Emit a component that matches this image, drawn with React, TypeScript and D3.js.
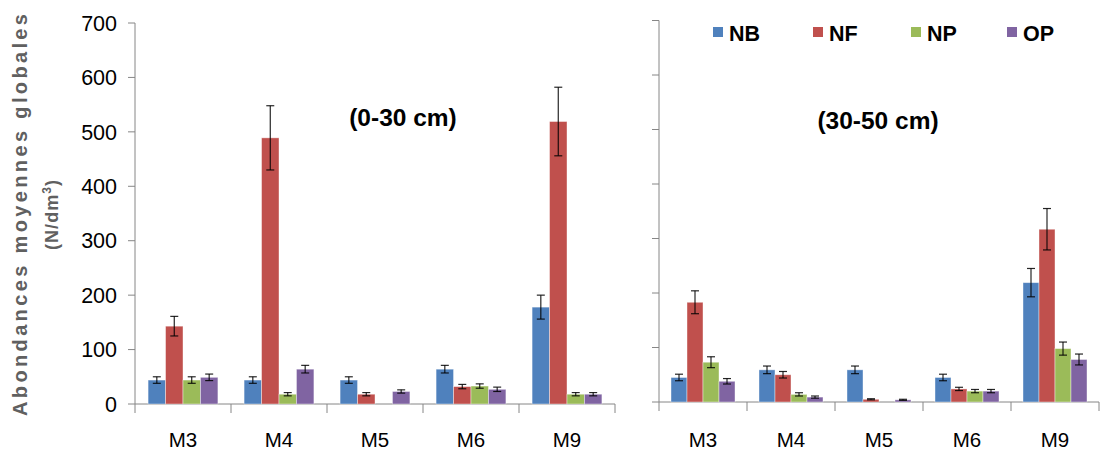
import * as d3 from "d3";

const CATEGORIES = ["M3", "M4", "M5", "M6", "M9"];
const SERIES = ["NB", "NF", "NP", "OP"];
const COLORS = ["#4F81BD", "#C0504D", "#9BBB59", "#8064A2"];
const Y_TICKS = [0, 100, 200, 300, 400, 500, 600, 700];

// 0-30 cm, one array per series (M3, M4, M5, M6, M9)
const TOP_NB = [44, 44, 44, 64, 178];
const TOP_NF = [143, 489, 18, 32, 519];
const TOP_NP = [44, 18, 0, 33, 18];
const TOP_OP = [49, 64, 23, 27, 18];
const TOP_NB_ERR = [6, 6, 6, 7, 22];
const TOP_NF_ERR = [18, 59, 3, 4, 63];
const TOP_NP_ERR = [6, 3, 0, 4, 3];
const TOP_OP_ERR = [6, 7, 3, 4, 3];

// 30-50 cm
const SUB_NB = [45, 59, 59, 45, 219];
const SUB_NF = [183, 50, 5, 24, 317];
const SUB_NP = [73, 14, 0, 20, 98];
const SUB_OP = [38, 9, 4, 20, 78];
const SUB_NB_ERR = [6, 7, 7, 6, 26];
const SUB_NF_ERR = [21, 6, 1, 3, 38];
const SUB_NP_ERR = [10, 3, 0, 3, 12];
const SUB_OP_ERR = [5, 2, 1, 3, 10];

const FONT = "'Liberation Sans', Arial, sans-serif";
const AXIS = "#868686";

type PanelProps = {
  values: number[][];
  errors: number[][];
  x0: number;
  x1: number;
  yBase: number;
  yTop: number;
  title: string;
  titleX: number;
  titleY: number;
  labels: boolean;
};

function Panel({ values, errors, x0, x1, yBase, yTop, title, titleX, titleY, labels }: PanelProps) {
  const y = d3.scaleLinear().domain([0, 700]).range([yBase, yTop]);
  const xCat = d3.scaleBand().domain(CATEGORIES).range([x0, x1]).padding(0);
  const xSer = d3.scaleBand().domain(SERIES).range([0, xCat.bandwidth()]).paddingInner(0).paddingOuter(0.75);
  const bw = xSer.bandwidth();

  return (
    <g>
      {/* y axis */}
      <line x1={x0} x2={x0} y1={yTop} y2={yBase} stroke={AXIS} strokeWidth={1} />
      {Y_TICKS.map(t => (
        <g key={t}>
          <line x1={x0 - 7} x2={x0} y1={y(t)} y2={y(t)} stroke={AXIS} />
          {labels && (
            <text x={117} y={y(t)} dy="0.36em" textAnchor="end" fontSize={21.5} fontFamily={FONT} fill="#000">{t}</text>
          )}
        </g>
      ))}
      {/* x axis */}
      <line x1={x0} x2={x1} y1={yBase} y2={yBase} stroke={AXIS} />
      {[...CATEGORIES.map(c => xCat(c)!), x1].map((v, i) => (
        <line key={i} x1={v} x2={v} y1={yBase} y2={yBase + 9} stroke={AXIS} />
      ))}
      {CATEGORIES.map(c => (
        <text key={c} x={xCat(c)! + xCat.bandwidth() / 2} y={447} textAnchor="middle" fontSize={20.5} fontFamily={FONT} fill="#000">{c}</text>
      ))}
      {/* bars */}
      {SERIES.map((s, si) => CATEGORIES.map((c, ci) => {
        const v = values[si][ci];
        if (!v) return null;
        const bx = xCat(c)! + xSer(s)!;
        const e = errors[si][ci];
        const cx = bx + bw / 2;
        return (
          <g key={s + c}>
            <rect x={bx} y={y(v)} width={bw} height={yBase - y(v)} fill={COLORS[si]} stroke="#ffffff" strokeOpacity={0.5} strokeWidth={0.8} />
            {e > 0 && (
              <g stroke="#000" strokeWidth={1.2} strokeOpacity={0.85}>
                <line x1={cx} x2={cx} y1={y(v + e)} y2={y(v - e)} />
                <line x1={cx - 4} x2={cx + 4} y1={y(v + e)} y2={y(v + e)} />
                <line x1={cx - 4} x2={cx + 4} y1={y(v - e)} y2={y(v - e)} />
              </g>
            )}
          </g>
        );
      }))}
      <text x={titleX} y={titleY} textAnchor="middle" fontSize={24.5} fontWeight="bold" fontFamily={FONT} fill="#000">{title}</text>
    </g>
  );
}

export default function App() {
  const legendX = [713, 813, 911, 1007];
  return (
    <svg width={1101} height={454} style={{ position: "absolute", left: 0, top: 0, background: "#fff" }}>
      <rect width={1101} height={454} fill="#fff" />
      <text transform="translate(27,215) rotate(-90)" textAnchor="middle" fontSize={20} fontWeight="bold" fontFamily={FONT} fill="#606060"
        textLength={402} lengthAdjust="spacing">Abondances moyennes globales</text>
      <text transform="translate(58,215) rotate(-90)" textAnchor="middle" fontSize={18} fontWeight="bold" fontFamily={FONT} fill="#606060"
        textLength={70} lengthAdjust="spacing">(N/dm<tspan dy={-7} fontSize={12}>3</tspan><tspan dy={7}>)</tspan></text>
      <Panel values={[TOP_NB, TOP_NF, TOP_NP, TOP_OP]} errors={[TOP_NB_ERR, TOP_NF_ERR, TOP_NP_ERR, TOP_OP_ERR]}
        x0={135} x1={615} yBase={404} yTop={23} title="(0-30 cm)" titleX={403} titleY={126} labels={true} />
      <Panel values={[SUB_NB, SUB_NF, SUB_NP, SUB_OP]} errors={[SUB_NB_ERR, SUB_NF_ERR, SUB_NP_ERR, SUB_OP_ERR]}
        x0={659} x1={1099} yBase={402} yTop={20.5} title="(30-50 cm)" titleX={878} titleY={129} labels={false} />
      {SERIES.map((s, i) => (
        <g key={s}>
          <rect x={legendX[i]} y={27} width={10} height={10} fill={COLORS[i]} />
          <text x={legendX[i] + 16} y={41} fontSize={21.5} fontWeight="bold" fontFamily={FONT} fill="#000">{s}</text>
        </g>
      ))}
    </svg>
  );
}
